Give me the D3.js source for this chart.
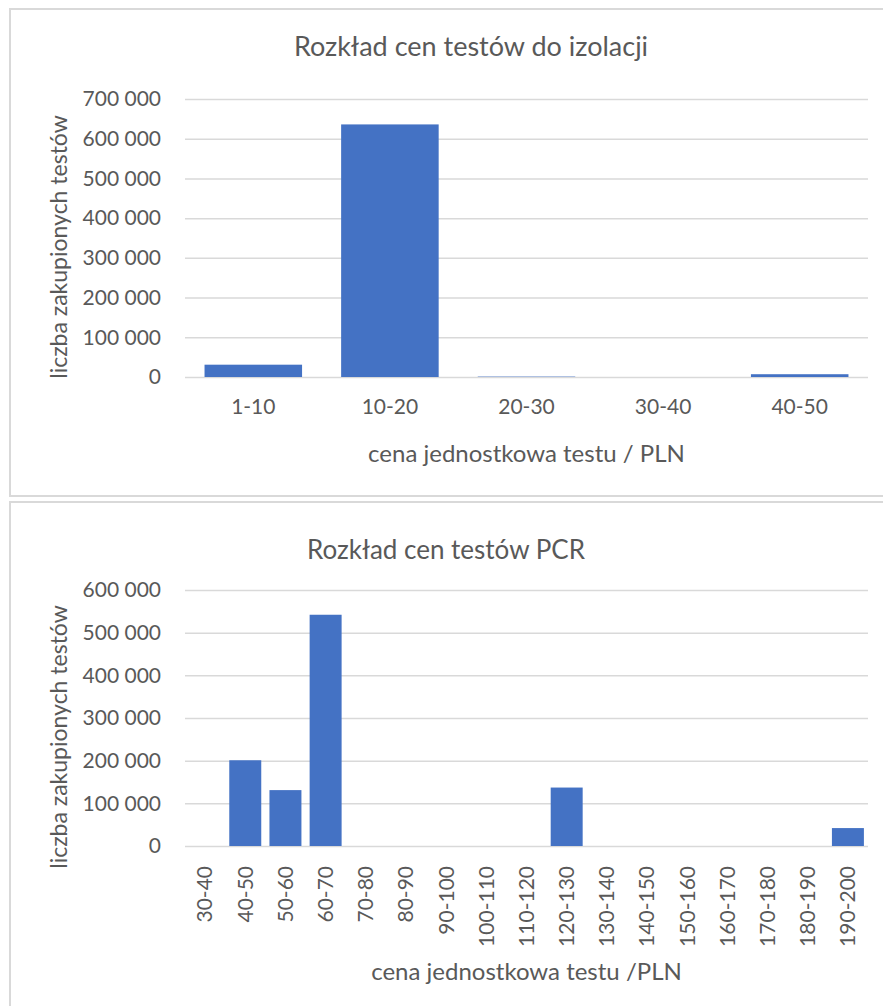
<!DOCTYPE html>
<html>
<head>
<meta charset="utf-8">
<script src="https://cdn.jsdelivr.net/npm/d3@7"></script>
<style>
  html, body { margin: 0; padding: 0; background: #fff; }
  svg { display: block; }
  text { font-family: Lato, "Open Sans", sans-serif; fill: #595959; }
  .grid line { stroke: #d9d9d9; stroke-width: 1.5; }
</style>
</head>
<body>
<svg id="chart" width="883" height="1006"></svg>
<script>
// Isolation tests: price bins and number of purchased tests
const isoCategories = ["1-10", "10-20", "20-30", "30-40", "40-50"];
const isoCounts = [31000, 636000, 1000, 0, 7000];
const isoTicks = [0, 100000, 200000, 300000, 400000, 500000, 600000, 700000];

// PCR tests: price bins and number of purchased tests
const pcrCategories = ["30-40", "40-50", "50-60", "60-70", "70-80", "80-90", "90-100",
  "100-110", "110-120", "120-130", "130-140", "140-150", "150-160", "160-170",
  "170-180", "180-190", "190-200"];
const pcrCounts = [0, 201000, 131000, 542000, 0, 0, 0, 0, 0, 137000, 0, 0, 0, 0, 0, 0, 42000];
const pcrTicks = [0, 100000, 200000, 300000, 400000, 500000, 600000];

const plLocale = d3.formatLocale({ decimal: ",", thousands: " ", grouping: [3], currency: ["", " zł"] });
const fmt = plLocale.format(",");

const svg = d3.select("#chart");
const BAR = "#4472C4";

// panel frames
svg.append("rect").attr("x", 10).attr("y", 9).attr("width", 890).attr("height", 487)
  .attr("fill", "none").attr("stroke", "#d9d9d9").attr("stroke-width", 2);
svg.append("rect").attr("x", 10).attr("y", 502).attr("width", 890).attr("height", 520)
  .attr("fill", "none").attr("stroke", "#d9d9d9").attr("stroke-width", 2);

function drawChart(cfg) {
  const g = svg.append("g");
  const x = d3.scaleBand().domain(cfg.categories).range([cfg.left, cfg.right])
    .paddingInner(cfg.pad).paddingOuter(cfg.pad / 2);
  const y = d3.scaleLinear().domain([0, d3.max(cfg.ticks)]).range([cfg.bottom, cfg.top]);

  // horizontal gridlines with value labels
  const yAxis = d3.axisLeft(y).tickValues(cfg.ticks).tickFormat(fmt)
    .tickSize(-(cfg.right - cfg.left)).tickPadding(24);
  const ya = g.append("g").attr("class", "grid")
    .attr("transform", `translate(${cfg.left},0)`).call(yAxis);
  ya.select(".domain").remove();
  ya.selectAll("text").style("font-size", cfg.tickFont + "px").attr("fill", "#595959");

  // bars
  g.selectAll("rect.bar").data(cfg.categories.map((c, i) => ({ c, v: cfg.values[i] })))
    .join("rect").attr("class", "bar")
    .attr("x", d => x(d.c)).attr("width", x.bandwidth())
    .attr("y", d => y(d.v)).attr("height", d => y(0) - y(d.v))
    .attr("fill", BAR);

  // category labels
  const xAxis = d3.axisBottom(x).tickSize(0).tickPadding(cfg.xPad);
  const xa = g.append("g").attr("transform", `translate(0,${cfg.bottom})`).call(xAxis);
  xa.select(".domain").remove();
  const xt = xa.selectAll("text").style("font-size", cfg.tickFont + "px").attr("fill", "#595959");
  if (cfg.rotate) {
    xt.attr("transform", "rotate(-90)").attr("text-anchor", "end")
      .attr("x", -cfg.xPad).attr("y", 0).attr("dy", "0.35em");
  }

  // titles
  g.append("text").attr("x", cfg.titleX).attr("y", cfg.titleY).attr("text-anchor", "middle")
    .attr("dominant-baseline", "central").style("font-size", cfg.titleFont + "px").text(cfg.title);
  g.append("text").attr("x", (cfg.left + cfg.right) / 2).attr("y", cfg.xTitleY)
    .attr("text-anchor", "middle").attr("dominant-baseline", "central")
    .style("font-size", "24px").text(cfg.xTitle);
  g.append("text").attr("transform", `translate(58,${cfg.yTitleY}) rotate(-90)`)
    .attr("text-anchor", "middle").attr("dominant-baseline", "central")
    .style("font-size", "23px").text("liczba zakupionych testów");
}

drawChart({
  categories: isoCategories, values: isoCounts, ticks: isoTicks,
  left: 185, right: 868, top: 99, bottom: 377, pad: 0.286,
  tickFont: 21, xPad: 22, rotate: false,
  title: "Rozkład cen testów do izolacji", titleFont: 27, titleX: 471, titleY: 45,
  xTitle: "cena jednostkowa testu / PLN", xTitleY: 452, yTitleY: 247
});

drawChart({
  categories: pcrCategories, values: pcrCounts, ticks: pcrTicks,
  left: 185, right: 868, top: 590, bottom: 846, pad: 0.204,
  tickFont: 21, xPad: 20, rotate: true,
  title: "Rozkład cen testów PCR", titleFont: 26, titleX: 446, titleY: 549,
  xTitle: "cena jednostkowa testu /PLN", xTitleY: 970, yTitleY: 737
});
</script>
</body>
</html>
